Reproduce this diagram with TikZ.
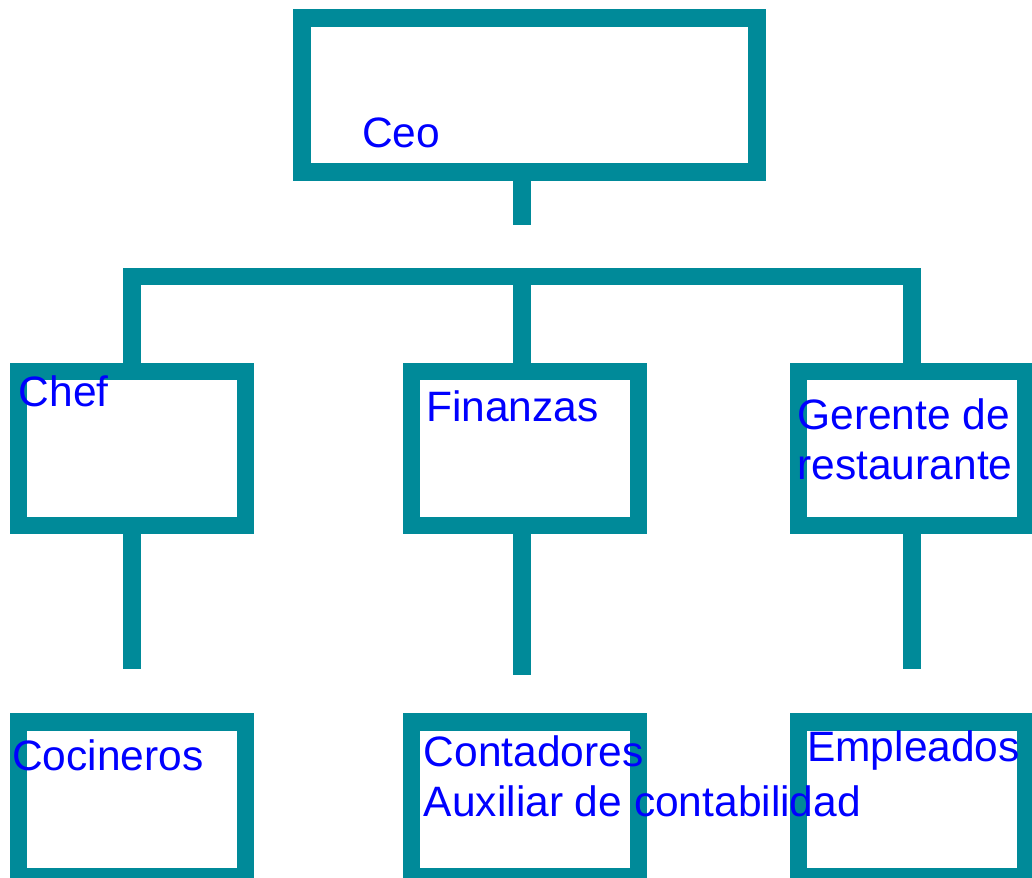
\documentclass[tikz,border=0pt]{standalone}
\usepackage{fontspec}
\setmainfont{Liberation Sans}
\definecolor{teal}{RGB}{0,138,153}
\definecolor{txtblue}{RGB}{0,0,255}
\tikzset{
  orgbox/.style={draw=teal, line width=17.5pt, rectangle, inner sep=0pt, minimum width=227pt, minimum height=154.4pt},
  link/.style={draw=teal, line width=17.5pt, line join=miter, line cap=butt},
  lbl/.style={anchor=base west, inner sep=0pt, text=txtblue, font=\fontsize{42.5}{50}\selectfont, align=left}
}
\begin{document}
\begin{tikzpicture}[x=1pt,y=-1pt]
\useasboundingbox (0,0) rectangle (1032,877);
% boxes
\node[orgbox, minimum width=454.6pt, minimum height=154.2pt] (ceo) at (529.5,95.1) {};
\node[orgbox] (chef) at (131.85,448.5) {};
\node[orgbox] (fin) at (525,448.5) {};
\node[orgbox] (ger) at (912,448.5) {};
\node[orgbox] (coc) at (131.85,799.3) {};
\node[orgbox] (con) at (525,799.3) {};
\node[orgbox] (emp) at (912,799.3) {};
% free ends
\coordinate (ceoend) at (522,225.3);
\coordinate (cheftop) at (132,362.7);
\coordinate (fintop) at (522,362.7);
\coordinate (gertop) at (912,362.7);
\coordinate (barmid) at (522,276.7);
\coordinate (chefend) at (132,669.3);
\coordinate (finend) at (522,675);
\coordinate (gerend) at (912,669.3);
% connectors
\draw[link] (ceo.south -| ceoend) ++(0,-9) -- (ceoend);
\draw[link] (cheftop) |- (barmid) -| (gertop);
\draw[link] (barmid) -- (fintop);
\draw[link] (chef.south -| chefend) ++(0,-9) -- (chefend);
\draw[link] (fin.south -| finend) ++(0,-9) -- (finend);
\draw[link] (ger.south -| gerend) ++(0,-9) -- (gerend);
% labels
\node[lbl] (tceo) at (362,147.7) {Ceo};
\node[lbl] (tchef) at (18.5,406.7) {Chef};
\node[lbl] (tfin) at (426,421) {Finanzas};
\node[lbl] (tger) at (797.3,479) {Gerente de\\restaurante};
\node[lbl] (tcoc) at (12,770) {Cocineros};
\node[lbl] (tcon) at (423.7,816.7) {Contadores\\Auxiliar de contabilidad};
\node[lbl] (temp) at (807,761.7) {Empleados};
\end{tikzpicture}
\end{document}
